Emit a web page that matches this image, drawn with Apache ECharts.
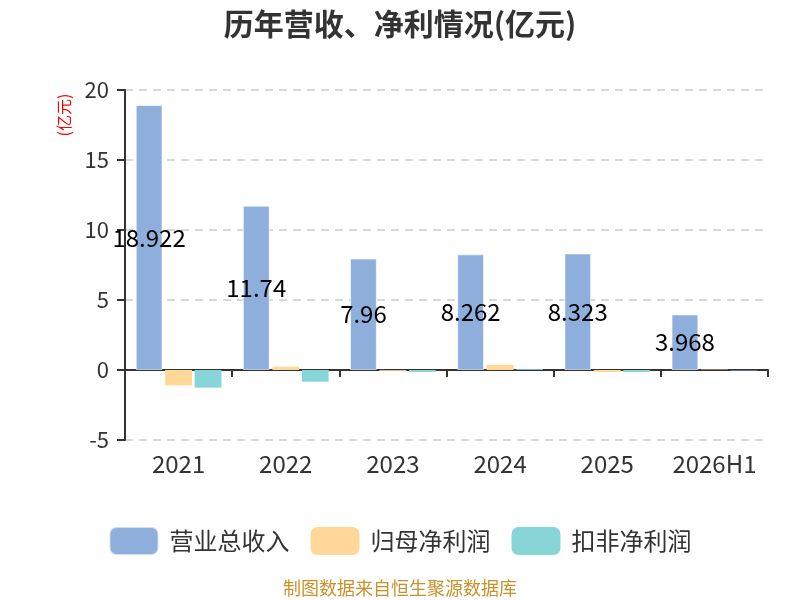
<!DOCTYPE html>
<html>
<head>
<meta charset="utf-8">
<script src="https://cdn.jsdelivr.net/npm/echarts@6/dist/echarts.min.js"></script>
<style>
  html, body { margin: 0; padding: 0; background: #fff; }
  #chart { width: 800px; height: 600px; }
</style>
</head>
<body>
<div id="chart"></div>
<script>
const years = ["2021", "2022", "2023", "2024", "2025", "2026H1"];
const revenue = [18.922, 11.74, 7.96, 8.262, 8.323, 3.968];
const netProfit = [-1.1, 0.24, -0.06, 0.37, -0.14, 0.03];
const netProfitDeducted = [-1.26, -0.84, -0.14, 0.06, -0.14, -0.03];

const FONT = '"Noto Sans CJK SC", "Noto Sans", sans-serif';

const chart = echarts.init(document.getElementById("chart"));

const option = {
  textStyle: { fontFamily: FONT },
  title: {
    text: "历年营收、净利情况(亿元)",
    left: "center",
    top: 4,
    textStyle: { fontSize: 30, fontWeight: "bold", color: "#333", fontFamily: FONT },
  },
  legend: {
    top: 521,
    left: "center",
    itemWidth: 49,
    itemHeight: 28,
    itemGap: 21,
    textStyle: { fontSize: 24, color: "#333", fontFamily: FONT, padding: [0, 0, 0, 6] },
    data: ["营业总收入", "归母净利润", "扣非净利润"],
  },
  graphic: [
    {
      type: "text",
      x: 64,
      y: 115,
      rotation: Math.PI / 2,
      style: {
        text: "(亿元)",
        fill: "#f00",
        font: "16px " + FONT,
        align: "center",
        verticalAlign: "middle",
      },
    },
    {
      type: "text",
      left: "center",
      top: 579,
      style: {
        text: "制图数据来自恒生聚源数据库",
        fill: "#c8922a",
        font: "18px " + FONT,
      },
    },
  ],
  grid: { left: 125, right: 32, top: 90, bottom: 160 },
  xAxis: [
    {
      type: "category",
      data: years,
      axisLine: { onZero: true, lineStyle: { color: "#333", width: 2 } },
      axisTick: { show: true, length: 7, lineStyle: { color: "#333", width: 2 } },
      axisLabel: { show: false },
    },
    {
      type: "category",
      data: years,
      position: "bottom",
      axisLine: { show: false, onZero: false },
      axisTick: { show: false },
      axisLabel: { interval: 0, fontSize: 24, color: "#333", margin: 12, fontFamily: FONT },
    },
  ],
  yAxis: {
    type: "value",
    min: -5,
    max: 20,
    interval: 5,
    axisLine: { show: true, lineStyle: { color: "#333", width: 2 } },
    axisTick: { show: true, length: 8, lineStyle: { color: "#333", width: 2 } },
    axisLabel: { fontSize: 22, color: "#333", margin: 16, fontFamily: FONT },
    splitLine: { show: true, lineStyle: { type: [8, 6], color: "#ccc", width: 1.5 } },
  },
  series: [
    {
      name: "营业总收入",
      type: "bar",
      data: revenue,
      barGap: "10%",
      barCategoryGap: "20%",
      itemStyle: { color: "#8eaedb", borderColor: "rgba(255,255,255,0.6)", borderWidth: 1 },
      label: {
        show: true,
        position: "inside",
        color: "#000",
        fontSize: 24,
        fontFamily: FONT,
      },
    },
    {
      name: "归母净利润",
      type: "bar",
      data: netProfit,
      itemStyle: { color: "#ffd899" },
    },
    {
      name: "扣非净利润",
      type: "bar",
      data: netProfitDeducted,
      itemStyle: { color: "#88d5d8" },
    },
  ],
};

chart.setOption(option);
</script>
</body>
</html>
